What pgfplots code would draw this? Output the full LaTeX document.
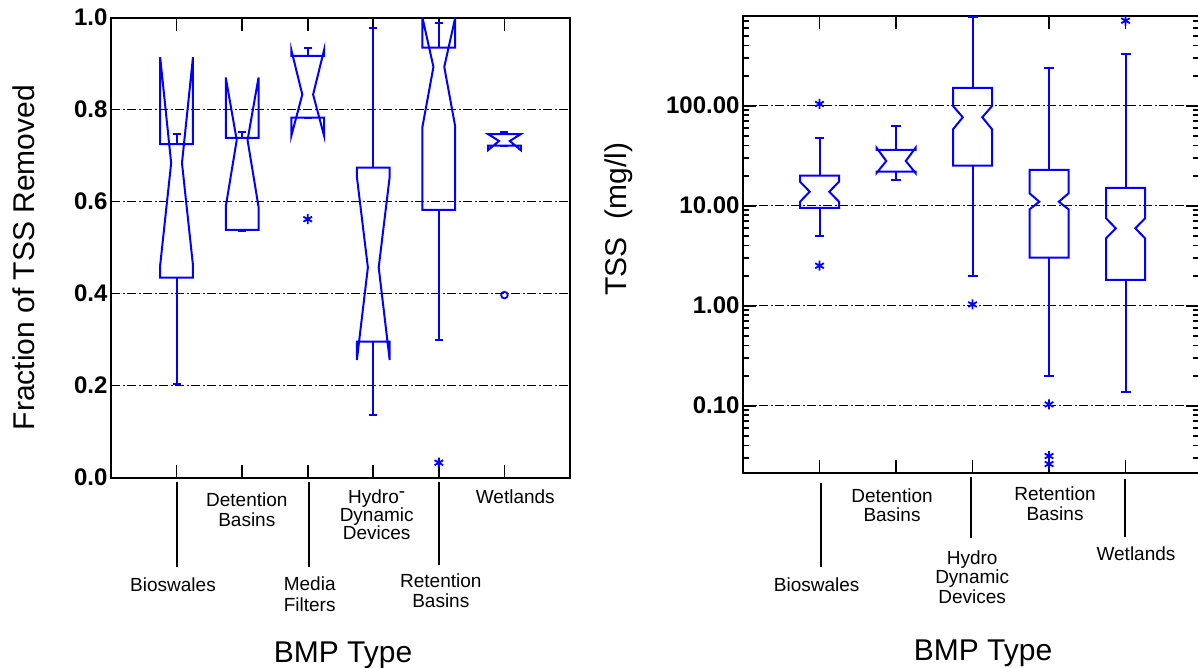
\documentclass[border=0pt]{standalone}
\usepackage{fontspec}
\setmainfont{Liberation Sans}
\usepackage{pgfplots}
\pgfplotsset{compat=1.18}
\definecolor{bxblue}{RGB}{0,0,255}
\pgfplotsset{
  bx/.style={bxblue, line width=2pt, mark=none, line join=miter},
  common/.style={
    scale only axis, anchor=south west,
    axis line style={line width=2pt},
    every tick/.style={black, line width=1.8pt},
    major tick length=13pt, minor tick length=6pt,
    tick align=inside,
    xticklabels={,,,,,,,},
    ymajorgrids,
    grid style={black, line width=1.3pt, dash pattern=on 9pt off 2.5pt on 2pt off 2.5pt},
    yticklabel style={font=\fontsize{24}{24}\selectfont\bfseries},
  }
}
\def\bw{0.25}\def\br{0.33}\def\cw{0.06}
% x, wlo, q1, nlo, med, nhi, q3, whi
\newcommand{\nbox}[8]{%
  \pgfmathsetmacro\xa{#1-\bw}\pgfmathsetmacro\xb{#1+\bw}%
  \pgfmathsetmacro\xc{#1-\bw*\br}\pgfmathsetmacro\xd{#1+\bw*\br}%
  \pgfmathsetmacro\xe{#1-\cw}\pgfmathsetmacro\xf{#1+\cw}%
  \addplot[bx] coordinates {(\xa,#3) (\xa,#4) (\xc,#5) (\xa,#6) (\xa,#7) (\xb,#7) (\xb,#6) (\xd,#5) (\xb,#4) (\xb,#3) (\xa,#3) (\xa,#4)};
  \addplot[bx] coordinates {(#1,#7) (#1,#8)};
  \addplot[bx] coordinates {(\xe,#8) (\xf,#8)};
  \addplot[bx] coordinates {(#1,#3) (#1,#2)};
  \addplot[bx] coordinates {(\xe,#2) (\xf,#2)};
}
\newcommand{\lab}[3]{\node[anchor=base, inner sep=0pt, font=\fontsize{19}{19}\selectfont] at (#1pt,-#2pt) {#3};}
\begin{document}
\begin{tikzpicture}
\useasboundingbox (0,0) rectangle (1198pt,-667pt);
% ---------------- left panel ----------------
\begin{axis}[common,
  at={(111pt,-477.7pt)}, width=459pt, height=460pt,
  xmin=0, xmax=7, ymin=0, ymax=1,
  xtick={1,2,3,4,5,6}, xtick pos=both,
  ytick={0,0.2,0.4,0.6,0.8,1}, yticklabels={0.0,0.2,0.4,0.6,0.8,1.0},
  ytick pos=left, ytick style={draw=none},
]
\def\bw{0.25}\def\br{0.33}\def\cw{0.06}
\nbox{1}{0.203}{0.435}{0.462}{0.684}{0.914}{0.725}{0.747}
\nbox{2}{0.536}{0.5385}{0.589}{0.734}{0.870}{0.739}{0.7515}
\nbox{3}{0.783}{0.783}{0.743}{0.833}{0.930}{0.917}{0.935}
\nbox{4}{0.136}{0.296}{0.256}{0.457}{0.654}{0.674}{0.978}
\nbox{5}{0.299}{0.582}{0.763}{0.893}{1.0}{0.935}{0.989}
\nbox{6}{0.722}{0.722}{0.712}{0.732}{0.747}{0.747}{0.752}
\addplot[bxblue, only marks, mark=asterisk, mark size=5pt, line width=1.8pt] coordinates {(3,0.562) (5,0.0326)};
\addplot[bxblue, only marks, mark=o, mark size=3.3pt, line width=1.8pt] coordinates {(6,0.397)};
\end{axis}
% ---------------- right panel ----------------
\begin{axis}[common,
  at={(743pt,-473pt)}, width=456pt, height=457pt,
  xmin=0, xmax=5.96, ymode=log, ymin=0.02123, ymax=788.8,
  xtick={1,2,3,4,5}, xtick pos=both,
  ytick={0.1,1,10,100}, yticklabels={0.10,1.00,10.00,100.00},
  minor ytick={0.03,0.04,0.05,0.06,0.07,0.08,0.09,0.2,0.3,0.4,0.5,0.6,0.7,0.8,0.9,2,3,4,5,6,7,8,9,20,30,40,50,60,70,80,90,200,300,400,500,600,700},
  ytick pos=both,
]
\def\bw{0.255}\def\br{0.5}\def\cw{0.065}
\nbox{1}{5.01}{9.49}{10.96}{13.8}{17.4}{19.95}{47.9}
\nbox{2}{18.1}{21.9}{21.2}{28.0}{38.0}{36.1}{63}
\nbox{3}{2.0}{25.1}{58.1}{76.6}{99.3}{151}{770}
\nbox{4}{0.198}{3.02}{9.2}{10.96}{13.3}{22.8}{240}
\nbox{5}{0.137}{1.81}{4.72}{5.94}{7.48}{15.1}{327}
\addplot[bxblue, only marks, mark=asterisk, mark size=5pt, line width=1.8pt] coordinates {(1,104) (1,2.51) (3,1.03) (4,0.103) (4,0.0314) (4,0.0261) (5,708)};
\end{axis}
% ---------------- axis titles ----------------
\node[rotate=90, anchor=base, inner sep=0pt, font=\fontsize{30}{30}\selectfont] at (34.5pt,-257.5pt) {Fraction of TSS Removed};
\node[rotate=90, anchor=base, inner sep=0pt, font=\fontsize{30}{30}\selectfont] at (626pt,-219pt) {TSS\hspace{0.6em}(mg/l)};
\node[anchor=base, inner sep=0pt, font=\fontsize{30}{30}\selectfont] at (343pt,-662pt) {BMP Type};
\node[anchor=base, inner sep=0pt, font=\fontsize{30}{30}\selectfont] at (983pt,-660pt) {BMP Type};
% ---------------- category leaders ----------------
\draw[black, line width=2pt] (177pt,-482pt) -- (177pt,-567pt);
\draw[black, line width=2pt] (308.7pt,-482pt) -- (308.7pt,-567pt);
\draw[black, line width=2pt] (438.7pt,-482pt) -- (438.7pt,-565pt);
\draw[black, line width=2pt] (820.7pt,-483pt) -- (820.7pt,-567pt);
\draw[black, line width=2pt] (970.7pt,-477pt) -- (970.7pt,-538pt);
\draw[black, line width=2pt] (1125pt,-479pt) -- (1125pt,-537pt);
% ---------------- category labels left ----------------
\lab{173}{591.5}{Bioswales}
\lab{246.8}{506.7}{Detention}
\lab{246.8}{526}{Basins}
\lab{309.7}{590}{Media}
\lab{309.7}{611}{Filters}
\lab{376.7}{503.3}{Hydro\raisebox{0.3em}{-}}
\lab{376.7}{521.3}{Dynamic}
\lab{376.7}{539.3}{Devices}
\lab{440.8}{587.7}{Retention}
\lab{440.8}{607.7}{Basins}
\lab{515.3}{503.3}{Wetlands}
% ---------------- category labels right ----------------
\lab{816.7}{591.7}{Bioswales}
\lab{892}{502.3}{Detention}
\lab{892}{521.7}{Basins}
\lab{972.2}{564}{Hydro}
\lab{972.2}{583.5}{Dynamic}
\lab{972.2}{603.3}{Devices}
\lab{1055}{500.7}{Retention}
\lab{1055}{520}{Basins}
\lab{1136}{560}{Wetlands}
\end{tikzpicture}
\end{document}
